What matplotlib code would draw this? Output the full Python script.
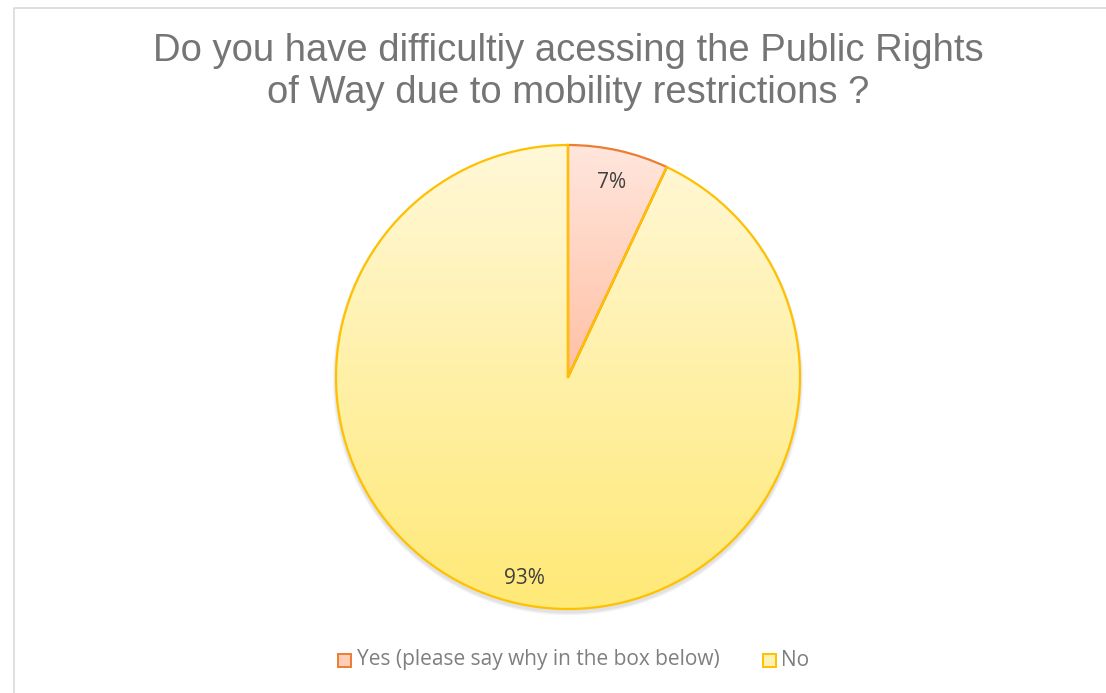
import matplotlib.pyplot as plt
import numpy as np
from matplotlib.colors import LinearSegmentedColormap
from matplotlib.patches import Rectangle, Ellipse

plt.rcParams['font.family'] = ['Liberation Sans', 'DejaVu Sans']

labels = ['Yes (please say why in the box below)', 'No']
values = [7, 93]
pct_labels = ['7%', '93%']
edge_colors = ['#ED7D31', '#FFC000']
grad_top = ['#FFE6DD', '#FFF8D8']
grad_bottom = ['#FF9A6A', '#FFE977']

title = 'Do you have difficultiy acessing the Public Rights\nof Way due to mobility restrictions ?'

W, H = 1106, 693
fig = plt.figure(figsize=(W / 100, H / 100), dpi=100)
ax = fig.add_axes([0, 0, 1, 1])

cx, cy, r = 568, H - 377, 232

# soft shadow under the pie
for k in range(6):
    ax.add_patch(Ellipse((cx, cy - 3), 2 * r + 2 + k, 2 * r + 2 + k,
                         color='#000000', alpha=0.018, lw=0, zorder=0))

wedges, _ = ax.pie(values, startangle=90, counterclock=False, radius=r,
                   center=(cx, cy), frame=True,
                   wedgeprops=dict(linewidth=1.6))

# vertical gradient fill clipped to each wedge
grad = np.linspace(0, 1, 256).reshape(-1, 1)
for i, w in enumerate(wedges):
    w.set_facecolor('none')
    w.set_edgecolor(edge_colors[i])
    w.set_zorder(3)
    cmap = LinearSegmentedColormap.from_list('g%d' % i, [grad_top[i], grad_bottom[i]])
    im = ax.imshow(grad, cmap=cmap, aspect='auto', origin='upper',
                   extent=(cx - r, cx + r, cy - r, cy + r), zorder=2)
    im.set_clip_path(w)
# orange slice sits on top so its arc keeps its own colour, radial edges yellow
wedges[0].set_zorder(4)
ax.plot([cx, cx], [cy, cy + r], color='#FFC000', lw=1.6, zorder=5)
ang = np.deg2rad(90 - 360 * values[0] / sum(values))
ax.plot([cx, cx + r * np.cos(ang)], [cy, cy + r * np.sin(ang)],
        color='#FFC000', lw=1.6, zorder=5)

# percentage labels
label_font = ['Open Sans', 'DejaVu Sans']
ax.text(612, H - 182, pct_labels[0], ha='center', va='center', fontsize=15,
        color='#404040', family=label_font, zorder=6)
ax.text(524, H - 578, pct_labels[1], ha='center', va='center', fontsize=15,
        color='#404040', family=label_font, zorder=6)

ax.text(568, H - 72, title, ha='center', va='center', fontsize=27.5,
        color='#757575', linespacing=1.24)

# legend
ly = H - 660
ax.add_patch(Rectangle((338, ly - 6.5), 13, 13, facecolor='#FFCDB8',
                       edgecolor=edge_colors[0], lw=1.4))
ax.text(357, ly, labels[0], ha='left', va='center', fontsize=15,
        color='#7F7F7F', family=label_font)
ax.add_patch(Rectangle((763, ly - 6.5), 13, 13, facecolor='#FFF2B0',
                       edgecolor=edge_colors[1], lw=1.4))
ax.text(781, ly, labels[1], ha='left', va='center', fontsize=15,
        color='#7F7F7F', family=label_font)

# chart area outline
ax.plot([13.5, 13.5, W], [0, H - 7.5, H - 7.5], color='#D9D9D9', lw=1.2)

ax.set_xlim(0, W)
ax.set_ylim(0, H)
ax.set_aspect('auto')
ax.axis('off')

fig.savefig('out.png', dpi=100)
